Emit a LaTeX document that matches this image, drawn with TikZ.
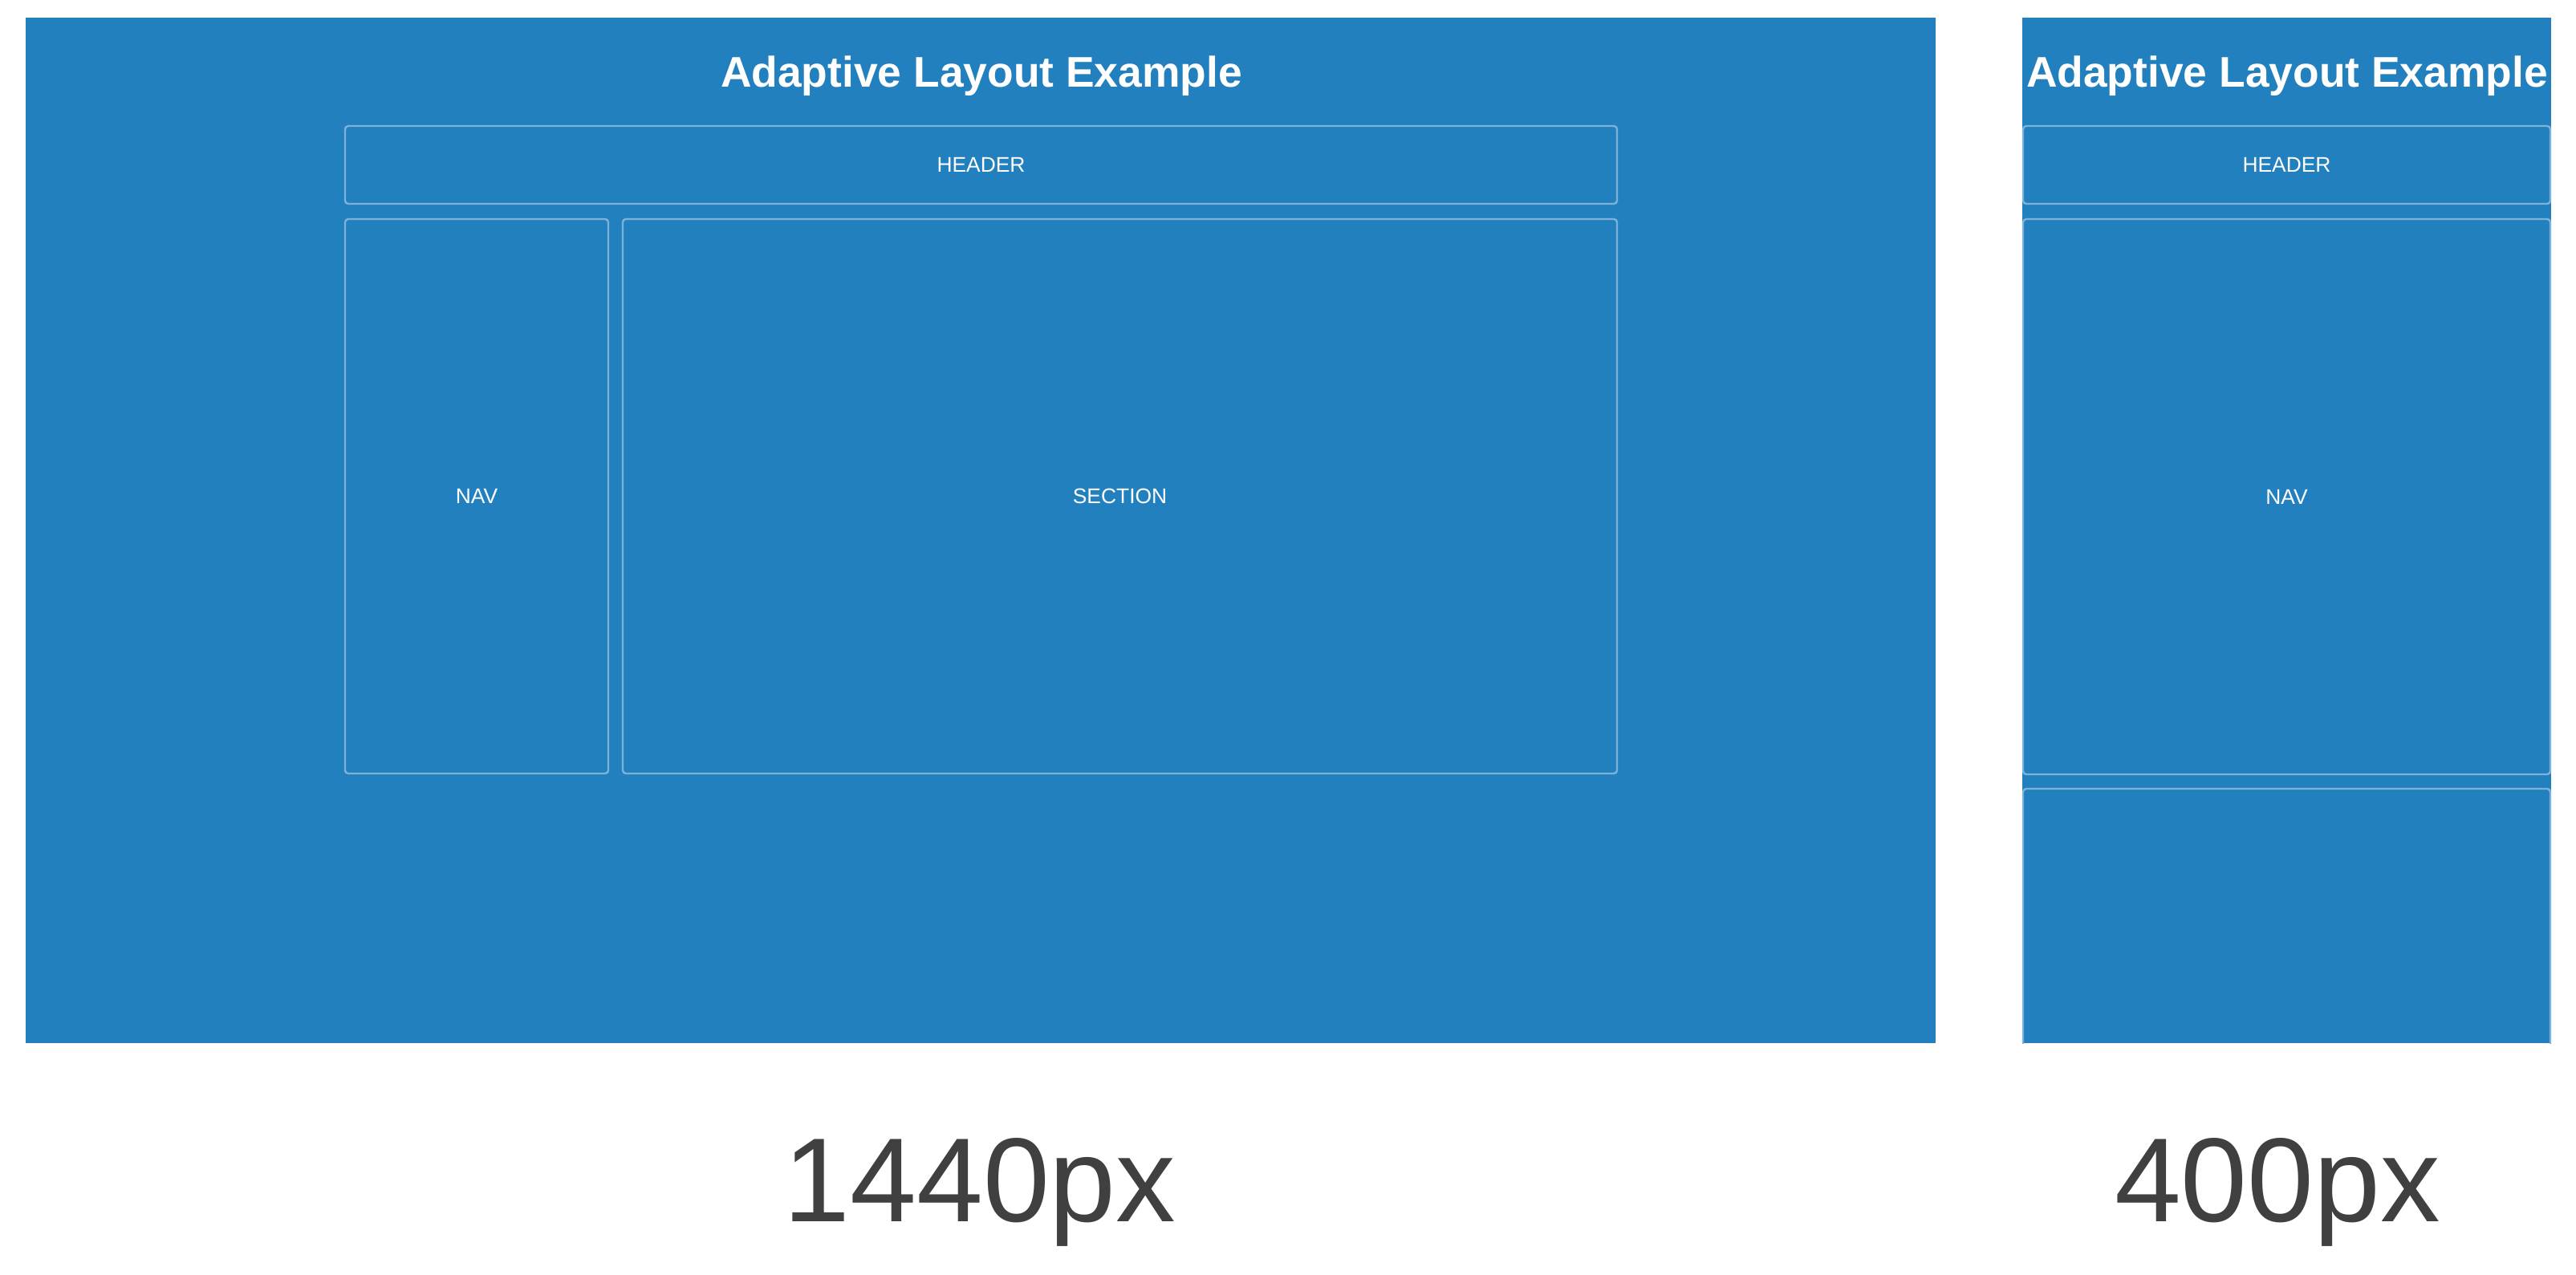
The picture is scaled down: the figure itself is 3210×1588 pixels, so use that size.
\documentclass[tikz,border=0pt]{standalone}
\usepackage{fontspec}
\setmainfont{Liberation Sans}
\definecolor{panelblue}{RGB}{34,128,191}
\definecolor{boxline}{RGB}{124,178,217}
\definecolor{labelgray}{RGB}{64,64,64}
\tikzset{
  panel/.style={fill=panelblue, draw=none, inner sep=0pt, rectangle},
  box/.style={draw=boxline, line width=0.6pt, rounded corners=1pt, inner sep=0pt, rectangle,
    text=white, font=\fontsize{6.6}{8}\selectfont},
  titletext/.style={text=white, inner sep=0pt, anchor=base, font=\fontsize{13.35}{16}\selectfont\bfseries},
  widthtext/.style={text=labelgray, inner sep=0pt, anchor=base, font=\fontsize{37.25}{44}\selectfont}
}
\begin{document}
\begin{tikzpicture}[x=0.25pt,y=-0.25pt]
\useasboundingbox (0,0) rectangle (3210,1588);
% panels
\node[panel, minimum width=595pt, minimum height=319.5pt] (panelL) at (1222,661) {};
\node[panel, minimum width=164.75pt, minimum height=319.5pt] (panelR) at (2849.5,661) {};
% titles
\node[titletext] (titleL) at (1223,108) {Adaptive Layout Example};
\node[titletext] (titleR) at (2850,108) {Adaptive Layout Example};
% left layout
\node[box, minimum width=396.25pt, minimum height=24.25pt] (headerL) at (1222.5,205.5) {HEADER};
\node[box, minimum width=82pt, minimum height=172.75pt] (navL) at (594,618.5) {NAV};
\node[box, minimum width=309.75pt, minimum height=172.75pt] (sectionL) at (1395.5,618.5) {SECTION};
% right layout
\node[box, minimum width=164.25pt, minimum height=24.25pt] (headerR) at (2849.5,205.5) {HEADER};
\node[box, minimum width=164.25pt, minimum height=173pt] (navR) at (2849.5,619) {NAV};
\begin{scope}
\clip (panelR.north west) rectangle (panelR.south east);
\node[box, minimum width=164.25pt, minimum height=84.25pt] (sectionR) at (2849.5,1151.5) {};
\end{scope}
% width labels
\node[widthtext] (wL) at (1221,1522) {1440px};
\node[widthtext] (wR) at (2838,1522) {400px};
\end{tikzpicture}
\end{document}
